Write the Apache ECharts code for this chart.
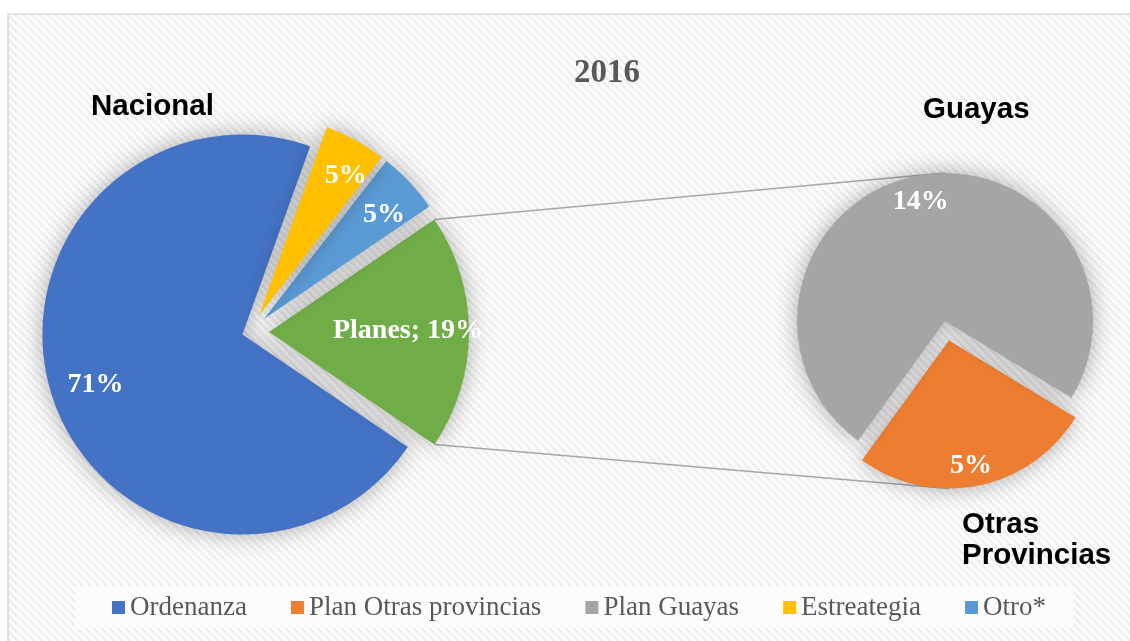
<!DOCTYPE html>
<html>
<head>
<meta charset="utf-8">
<script src="https://cdn.jsdelivr.net/npm/echarts@6/dist/echarts.min.js"></script>
<style>
  html, body { margin: 0; padding: 0; background: #fff; }
  #chart { width: 1130px; height: 641px; }
</style>
</head>
<body>
<div id="chart"></div>
<script>
const chartTitle = '2016';
const nacionalNames = ['Planes', 'Otro*', 'Estreategia', 'Ordenanza'];
const nacionalValues = [19, 5, 5, 71];
const guayasNames = ['Plan Otras provincias', 'Plan Guayas'];
const guayasValues = [5, 14];
const legendNames = ['Ordenanza', 'Plan Otras provincias', 'Plan Guayas', 'Estreategia', 'Otro*'];

const colors = {
  'Ordenanza': '#4472c4',
  'Plan Otras provincias': '#ed7d31',
  'Plan Guayas': '#a5a5a5',
  'Estreategia': '#ffc000',
  'Otro*': '#5b9bd5',
  'Planes': '#70ad47'
};

// pie geometry (px)
const leftPie = { cx: 250, cy: 332, r: 200, explode: 19, mainExplode: 8 };
const rightPie = { cx: 945, cy: 321, r: 148, explode: 20, startAngle: -126 };

// nudges from the default "inside" label spot
const labelOffsets = {
  'Ordenanza': [-49, 18],
  'Planes': [36, -1],
  'Estreategia': [37, -49],
  'Otro*': [45, -34],
  'Plan Guayas': [-9, -44],
  'Plan Otras provincias': [7, 50]
};

const rad = deg => deg * Math.PI / 180;
const polar = (cx, cy, radius, deg) => [cx + radius * Math.cos(rad(deg)), cy - radius * Math.sin(rad(deg))];

// angles of slice i, counter-clockwise from start
function sliceAngles(values, i, start) {
  const total = values.reduce((a, b) => a + b, 0);
  const before = values.slice(0, i).reduce((a, b) => a + b, 0);
  const from = start + before / total * 360;
  const to = from + values[i] / total * 360;
  return { from, to, mid: (from + to) / 2 };
}

function stripePattern() {
  const c = document.createElement('canvas');
  c.width = 8; c.height = 8;
  const ctx = c.getContext('2d');
  const img = ctx.createImageData(8, 8);
  for (let y = 0; y < 8; y++) {
    for (let x = 0; x < 8; x++) {
      const on = ((x - y + 16) % 8) < 3;
      const v = on ? 237 : 252;
      const k = (y * 8 + x) * 4;
      img.data[k] = v; img.data[k + 1] = v; img.data[k + 2] = v; img.data[k + 3] = 255;
    }
  }
  ctx.putImageData(img, 0, 0);
  return c;
}

const leftStart = -nacionalValues[0] / 100 * 360 / 2;
const sliceLabel = {
  show: true,
  position: 'inside',
  color: '#ffffff',
  fontFamily: 'Liberation Serif',
  fontWeight: 'bold',
  fontSize: 28,
  formatter: p => p.name === 'Planes' ? `${p.name}; ${p.value}%` : `${p.value}%`
};
const shadowStyle = { borderWidth: 0, shadowBlur: 22, shadowColor: 'rgba(0,0,0,0.32)' };

function pieBase(center, radius, startAngle) {
  return {
    type: 'pie',
    center,
    radius,
    startAngle,
    clockwise: false,
    avoidLabelOverlap: false,
    animation: false,
    silent: true,
    emphasis: { disabled: true },
    labelLine: { show: false },
    label: sliceLabel
  };
}

function visibleItem(name, value, extra) {
  return Object.assign({
    name,
    value,
    itemStyle: Object.assign({ color: colors[name] }, shadowStyle),
    label: { offset: labelOffsets[name] },
    select: { label: { offset: labelOffsets[name] }, itemStyle: { color: colors[name] } }
  }, extra);
}

function hiddenItem(name, value) {
  return { name, value, itemStyle: { color: 'transparent', borderWidth: 0 }, label: { show: false } };
}

function buildOption() {
  const ordIdx = nacionalNames.indexOf('Ordenanza');
  const ordMid = sliceAngles(nacionalValues, ordIdx, leftStart).mid;
  const ordCenter = polar(leftPie.cx, leftPie.cy, leftPie.mainExplode, ordMid);

  const mainSlice = Object.assign(pieBase(ordCenter, leftPie.r, leftStart), {
    data: nacionalNames.map((name, i) =>
      name === 'Ordenanza' ? visibleItem(name, nacionalValues[i]) : hiddenItem(name, nacionalValues[i]))
  });

  const smallSlices = Object.assign(pieBase([leftPie.cx, leftPie.cy], leftPie.r, leftStart), {
    selectedMode: 'multiple',
    selectedOffset: leftPie.explode,
    data: nacionalNames.map((name, i) =>
      name !== 'Ordenanza' ? visibleItem(name, nacionalValues[i], { selected: true }) : hiddenItem(name, nacionalValues[i]))
  });

  const guayas = Object.assign(pieBase([rightPie.cx, rightPie.cy], rightPie.r, rightPie.startAngle), {
    selectedMode: 'multiple',
    selectedOffset: rightPie.explode,
    data: guayasNames.map((name, i) =>
      visibleItem(name, guayasValues[i], { selected: name === 'Plan Otras provincias' }))
  });

  // connector lines: from the exploded "Planes" slice to the second pie
  const planes = sliceAngles(nacionalValues, 0, leftStart);
  const pc = polar(leftPie.cx, leftPie.cy, leftPie.explode, planes.mid);
  const topFrom = polar(pc[0], pc[1], leftPie.r, planes.to);
  const botFrom = polar(pc[0], pc[1], leftPie.r, planes.from);
  const otras = sliceAngles(guayasValues, 0, rightPie.startAngle);
  const oc = polar(rightPie.cx, rightPie.cy, rightPie.explode, otras.mid);
  const topTo = [rightPie.cx, rightPie.cy - rightPie.r];
  const botTo = [oc[0], oc[1] + rightPie.r];

  const sansBold = { fontFamily: 'Liberation Sans', fontWeight: 'bold', fontSize: 29.5, color: '#000000' };

  return {
    backgroundColor: '#ffffff',
    title: [
      { text: chartTitle, left: 574, top: 57, padding: 0,
        textStyle: { fontFamily: 'Liberation Serif', fontWeight: 'bold', fontSize: 33, color: '#595959' } },
      { text: 'Nacional', left: 91, top: 92, padding: 0, textStyle: sansBold },
      { text: 'Guayas', left: 923, top: 95, padding: 0, textStyle: sansBold },
      { text: 'Otras\nProvincias', left: 962, top: 509, padding: 0, textStyle: Object.assign({ lineHeight: 31 }, sansBold) }
    ],
    legend: {
      left: 75,
      top: 586,
      padding: [8, 27, 8, 37],
      backgroundColor: 'rgba(255,255,255,0.65)',
      icon: 'rect',
      itemWidth: 13,
      itemHeight: 13,
      itemGap: 44,
      selectedMode: false,
      textStyle: { fontFamily: 'Liberation Serif', fontSize: 27, color: '#595959' },
      data: legendNames.map(name => ({ name, itemStyle: { color: colors[name] } }))
    },
    graphic: [
      { type: 'rect', z: -10, silent: true,
        shape: { x: 8, y: 14, width: 1130, height: 640 },
        style: { fill: { image: stripePattern(), repeat: 'repeat' }, stroke: '#d9d9d9', lineWidth: 1.5 } },
      { type: 'line', z: 1, silent: true,
        shape: { x1: topFrom[0], y1: topFrom[1], x2: topTo[0], y2: topTo[1] },
        style: { stroke: '#a6a6a6', lineWidth: 1.5 } },
      { type: 'line', z: 1, silent: true,
        shape: { x1: botFrom[0], y1: botFrom[1], x2: botTo[0], y2: botTo[1] },
        style: { stroke: '#a6a6a6', lineWidth: 1.5 } }
    ],
    series: [mainSlice, smallSlices, guayas]
  };
}

const chart = echarts.init(document.getElementById('chart'), null, { renderer: 'canvas' });
chart.setOption(buildOption());
window.addEventListener('resize', () => chart.resize());
</script>
</body>
</html>
